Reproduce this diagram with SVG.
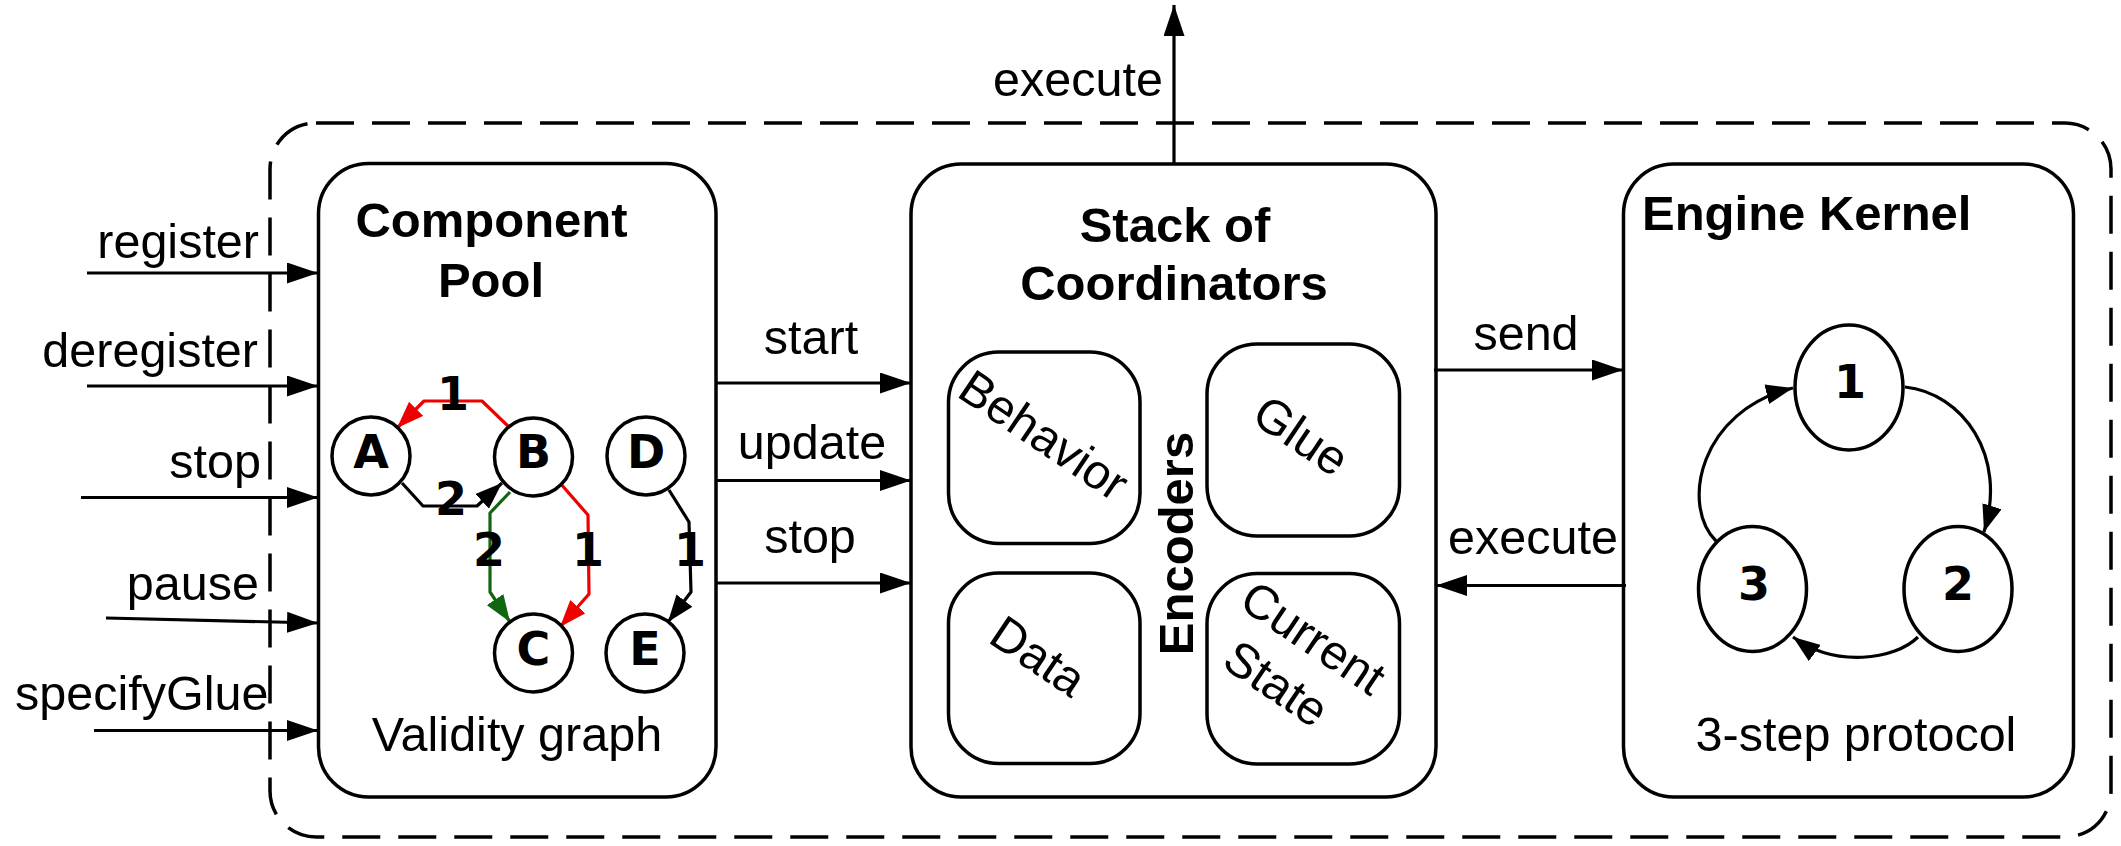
<svg xmlns="http://www.w3.org/2000/svg" width="2121" height="846" viewBox="0 0 2121 846">
<style>
.box{fill:#fff;stroke:#000;stroke-width:3.5}
.outer{fill:none;stroke:#000;stroke-width:3.5;stroke-dasharray:38 18}
.ln{fill:none;stroke:#000;stroke-width:3.2}
.red{fill:none;stroke:#ee0000;stroke-width:3.2;stroke-linejoin:round}
.grn{fill:none;stroke:#116611;stroke-width:3.2;stroke-linejoin:round}
.blk{fill:none;stroke:#000;stroke-width:3.2;stroke-linejoin:round}
.node{fill:#fff;stroke:#000;stroke-width:3.5}
.t{font-family:"Liberation Sans",Arial,sans-serif;font-size:48.5px;fill:#000}
.tb{font-family:"Liberation Sans",Arial,sans-serif;font-size:49px;font-weight:bold;fill:#000}
.nl{font-family:"DejaVu Sans",sans-serif;font-size:46px;font-weight:bold;fill:#000;text-anchor:middle}
.m{text-anchor:middle}
.e{text-anchor:end}
</style>
<defs>
<marker id="ah" viewBox="0 0 31 21" refX="31" refY="10.5" markerWidth="31" markerHeight="21" orient="auto" markerUnits="userSpaceOnUse"><path d="M0,0 L31,10.5 L0,21 z" fill="#000"/></marker>
<marker id="as" viewBox="0 0 27 20" refX="27" refY="10" markerWidth="27" markerHeight="20" orient="auto" markerUnits="userSpaceOnUse"><path d="M0,0 L27,10 L0,20 z" fill="#000"/></marker>
<marker id="as-r" viewBox="0 0 27 20" refX="27" refY="10" markerWidth="27" markerHeight="20" orient="auto" markerUnits="userSpaceOnUse"><path d="M0,0 L27,10 L0,20 z" fill="#ee0000"/></marker>
<marker id="as-g" viewBox="0 0 27 20" refX="27" refY="10" markerWidth="27" markerHeight="20" orient="auto" markerUnits="userSpaceOnUse"><path d="M0,0 L27,10 L0,20 z" fill="#116611"/></marker>
</defs>
<rect width="2121" height="846" fill="#fff"/>

<g id="engine-boundary">
<rect class="outer" x="270" y="123" width="1841" height="714" rx="46" ry="46"/>
</g>

<g id="component-pool">
<rect class="box" x="318.5" y="163.5" width="397.5" height="633.5" rx="50" ry="50"/>
<text class="tb m" x="491.5" y="237">Component</text>
<text class="tb m" x="491" y="297">Pool</text>
<text class="t m" x="517" y="751">Validity graph</text>
</g>

<g id="validity-graph-edges">
<path class="red" d="M509,427 L482,401 L424,401 L397,428" marker-end="url(#as-r)"/>
<path class="blk" d="M402,483 L423,506 L477,506 L502,483" marker-end="url(#as)"/>
<path class="grn" d="M510,492 L490,513 L490,592 L510,622" marker-end="url(#as-g)"/>
<path class="red" d="M560,483 L588,515 L589,594 L560,627" marker-end="url(#as-r)"/>
<path class="blk" d="M669,490 L689,522 L691,592 L668,622" marker-end="url(#as)"/>
<text class="nl" x="453" y="410">1</text>
<text class="nl" x="451" y="515">2</text>
<text class="nl" x="489" y="566">2</text>
<text class="nl" x="588" y="566">1</text>
<text class="nl" x="690" y="566">1</text>
</g>

<g id="node-A"><circle class="node" cx="371" cy="456" r="39"/><text class="nl" x="371" y="468">A</text></g>
<g id="node-B"><circle class="node" cx="533.5" cy="457" r="39"/><text class="nl" x="533.5" y="468">B</text></g>
<g id="node-D"><circle class="node" cx="646" cy="456" r="39"/><text class="nl" x="646" y="468">D</text></g>
<g id="node-C"><circle class="node" cx="533.5" cy="653" r="39"/><text class="nl" x="533.5" y="665">C</text></g>
<g id="node-E"><circle class="node" cx="645" cy="653" r="39"/><text class="nl" x="645" y="665">E</text></g>

<g id="stack-of-coordinators">
<rect class="box" x="911" y="164" width="525" height="633" rx="50" ry="50"/>
<text class="tb m" x="1175" y="241.5">Stack of</text>
<text class="tb m" x="1174" y="300">Coordinators</text>
<text class="tb m" transform="translate(1193,543.5) rotate(-90)" x="0" y="0">Encoders</text>
</g>
<g id="encoder-behavior">
<rect class="box" x="948.5" y="352" width="191.5" height="191.5" rx="50" ry="50"/>
<text class="t m" transform="translate(1034.5,449) rotate(34)" x="0" y="0">Behavior</text>
</g>
<g id="encoder-glue">
<rect class="box" x="1207" y="344" width="192.5" height="192" rx="50" ry="50"/>
<text class="t m" transform="translate(1292,449.5) rotate(34)" x="0" y="0">Glue</text>
</g>
<g id="encoder-data">
<rect class="box" x="948.5" y="573" width="191.5" height="190.5" rx="50" ry="50"/>
<text class="t m" transform="translate(1029,670) rotate(34)" x="0" y="0">Data</text>
</g>
<g id="encoder-current-state">
<rect class="box" x="1207" y="573.5" width="192.5" height="190.5" rx="50" ry="50"/>
<text class="t m" transform="translate(1304,651.5) rotate(34)" x="0" y="0">Current</text>
<text class="t m" transform="translate(1267,697.5) rotate(34)" x="0" y="0">State</text>
</g>

<g id="engine-kernel">
<rect class="box" x="1623.5" y="164" width="450" height="633" rx="50" ry="50"/>
<text class="tb" x="1642" y="229.5">Engine Kernel</text>
<text class="t m" x="1856" y="751">3-step protocol</text>
</g>
<g id="step-1"><ellipse class="node" cx="1849" cy="387.5" rx="54" ry="62.5"/><text class="nl" x="1850" y="398">1</text></g>
<g id="step-2"><ellipse class="node" cx="1958" cy="589" rx="54" ry="62.5"/><text class="nl" x="1958" y="600">2</text></g>
<g id="step-3"><ellipse class="node" cx="1752.5" cy="589" rx="54" ry="62.5"/><text class="nl" x="1754" y="600">3</text></g>

<g id="connectors">
<line class="ln" x1="87" y1="273" x2="318" y2="273" marker-end="url(#ah)"/>
<line class="ln" x1="87" y1="386" x2="318" y2="386" marker-end="url(#ah)"/>
<line class="ln" x1="81" y1="497.5" x2="318" y2="497.5" marker-end="url(#ah)"/>
<line class="ln" x1="106" y1="618" x2="318" y2="623" marker-end="url(#ah)"/>
<line class="ln" x1="94" y1="730.5" x2="318" y2="730.5" marker-end="url(#ah)"/>
<line class="ln" x1="715" y1="383" x2="911" y2="383" marker-end="url(#ah)"/>
<line class="ln" x1="715" y1="480.5" x2="911" y2="480.5" marker-end="url(#ah)"/>
<line class="ln" x1="715" y1="583" x2="911" y2="583" marker-end="url(#ah)"/>
<line class="ln" x1="1434" y1="370" x2="1623" y2="370" marker-end="url(#ah)"/>
<line class="ln" x1="1626" y1="585.5" x2="1436" y2="585.5" marker-end="url(#ah)"/>
<line class="ln" x1="1174" y1="164" x2="1174" y2="5" marker-end="url(#ah)"/>
<path class="blk" d="M1716,541 C1680,505 1700,410 1793,388" marker-end="url(#as)"/>
<path class="blk" d="M1905,387 C1962,393 2008,455 1984,532" marker-end="url(#as)"/>
<path class="blk" d="M1918,637 C1895,660 1835,668 1793,637" marker-end="url(#as)"/>
<text class="t e" x="259" y="258">register</text>
<text class="t e" x="258" y="367">deregister</text>
<text class="t e" x="261" y="477.5">stop</text>
<text class="t e" x="259" y="600">pause</text>
<text class="t e" x="268.5" y="710">specifyGlue</text>
<text class="t" x="993" y="96">execute</text>
<text class="t m" x="811" y="353.5">start</text>
<text class="t m" x="812" y="458.5">update</text>
<text class="t m" x="810" y="553">stop</text>
<text class="t m" x="1526" y="350">send</text>
<text class="t m" x="1533" y="554">execute</text>
</g>
</svg>
